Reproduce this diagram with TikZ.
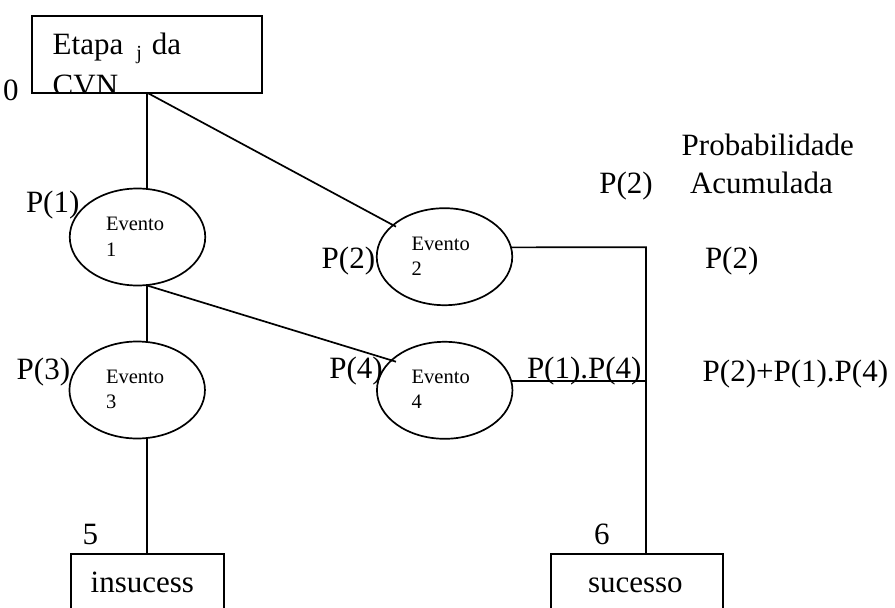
\documentclass[tikz,border=0pt]{standalone}
\usepackage{fontspec}
\setmainfont{Liberation Serif}
\usetikzlibrary{shapes.geometric}
\begin{document}
\begin{tikzpicture}[x=1pt,y=-1pt,
  every node/.style={inner sep=0pt, outer sep=0pt},
  lbl/.style={anchor=base west, font=\fontsize{31}{31}\selectfont},
  evlbl/.style={anchor=base west, font=\fontsize{20.5}{20.5}\selectfont},
  event/.style={ellipse, draw, line width=1.7pt, minimum width=135.5pt, minimum height=97pt},
  link/.style={line width=1.7pt},
  boxed/.style={draw, line width=1.7pt, anchor=north west}]
\clip (0,0) rectangle (895,608);

% stage box with its (overflowing) caption
\node[boxed, minimum width=230.3pt, minimum height=77pt] (etapa) at (32,15.7) {};
\begin{scope}
  \clip (32,15.7) rectangle (262.3,92.7);
  \node[lbl] (etapat) at (52.7,54.3) {Etapa\hspace{13pt}\raisebox{-5pt}{\fontsize{20}{20}\selectfont j}\hspace{10pt}da};
  \node[lbl] (cvn) at (52.7,95.5) {CVN};
\end{scope}
\node[lbl] (n0) at (3,100) {0};

% events
\node[event] (ev1) at (137.5,237) {};
\node[event] (ev2) at (444.5,256.7) {};
\node[event] (ev3) at (137.2,390) {};
\node[event] (ev4) at (444.7,390.3) {};

\node[evlbl] (ev1a) at (106,230.7) {Evento};
\node[evlbl] (ev1b) at (106,256) {1};
\node[evlbl] (ev2a) at (411.7,250) {Evento};
\node[evlbl] (ev2b) at (411.7,275) {2};
\node[evlbl] (ev3a) at (106,383.3) {Evento};
\node[evlbl] (ev3b) at (106,408) {3};
\node[evlbl] (ev4a) at (411.7,383.3) {Evento};
\node[evlbl] (ev4b) at (411.7,408) {4};

% outcome boxes
\node[boxed, minimum width=153.3pt, minimum height=80pt] (ins) at (70.7,553.7) {};
\node[boxed, minimum width=172.6pt, minimum height=80pt] (suc) at (550.7,553.7) {};
\node[lbl] (inst) at (90.7,592.7) {insucess};
\node[lbl] (suct) at (588,592) {sucesso};
\node[lbl] (n5) at (82.7,544) {5};
\node[lbl] (n6) at (594,544) {6};

% connectors
\coordinate (j2) at (396,226.7);
\coordinate (j4) at (396,361.7);
\coordinate (turn) at (646,247.3);
\draw[link] (etapa.south) -- (etapa.south |- ev1.north);
\draw[link] (etapa.south) -- (j2);
\draw[link] (etapa.south |- ev1.south) -- (etapa.south |- ev3.north);
\draw[link] (etapa.south |- ev1.south) -- (j4);
\draw[link] (etapa.south |- ev3.south) -- (etapa.south |- ins.north);
\draw[link] (ev2.8) -- (turn) -- (turn |- suc.north);
\draw[link] (ev4.8) -- (ev4.8 -| turn);

% probabilities
\node[lbl] (p1) at (26,212.3) {P(1)};
\node[lbl] (p2) at (321.7,268.3) {P(2)};
\node[lbl] (p3) at (16.7,379.3) {P(3)};
\node[lbl] (p4) at (329.3,378.3) {P(4)};
\node[lbl] (p14) at (527,378.3) {P(1).P(4)};
\node[lbl] (ptop) at (599.3,193) {P(2)};
\node[lbl] (hd1) at (681.7,155) {Probabilidade};
\node[lbl] (hd2) at (690,193) {Acumulada};
\node[lbl] (acc1) at (705,268.3) {P(2)};
\node[lbl] (acc2) at (702.7,381.7) {P(2)+P(1).P(4)};
\end{tikzpicture}
\end{document}
